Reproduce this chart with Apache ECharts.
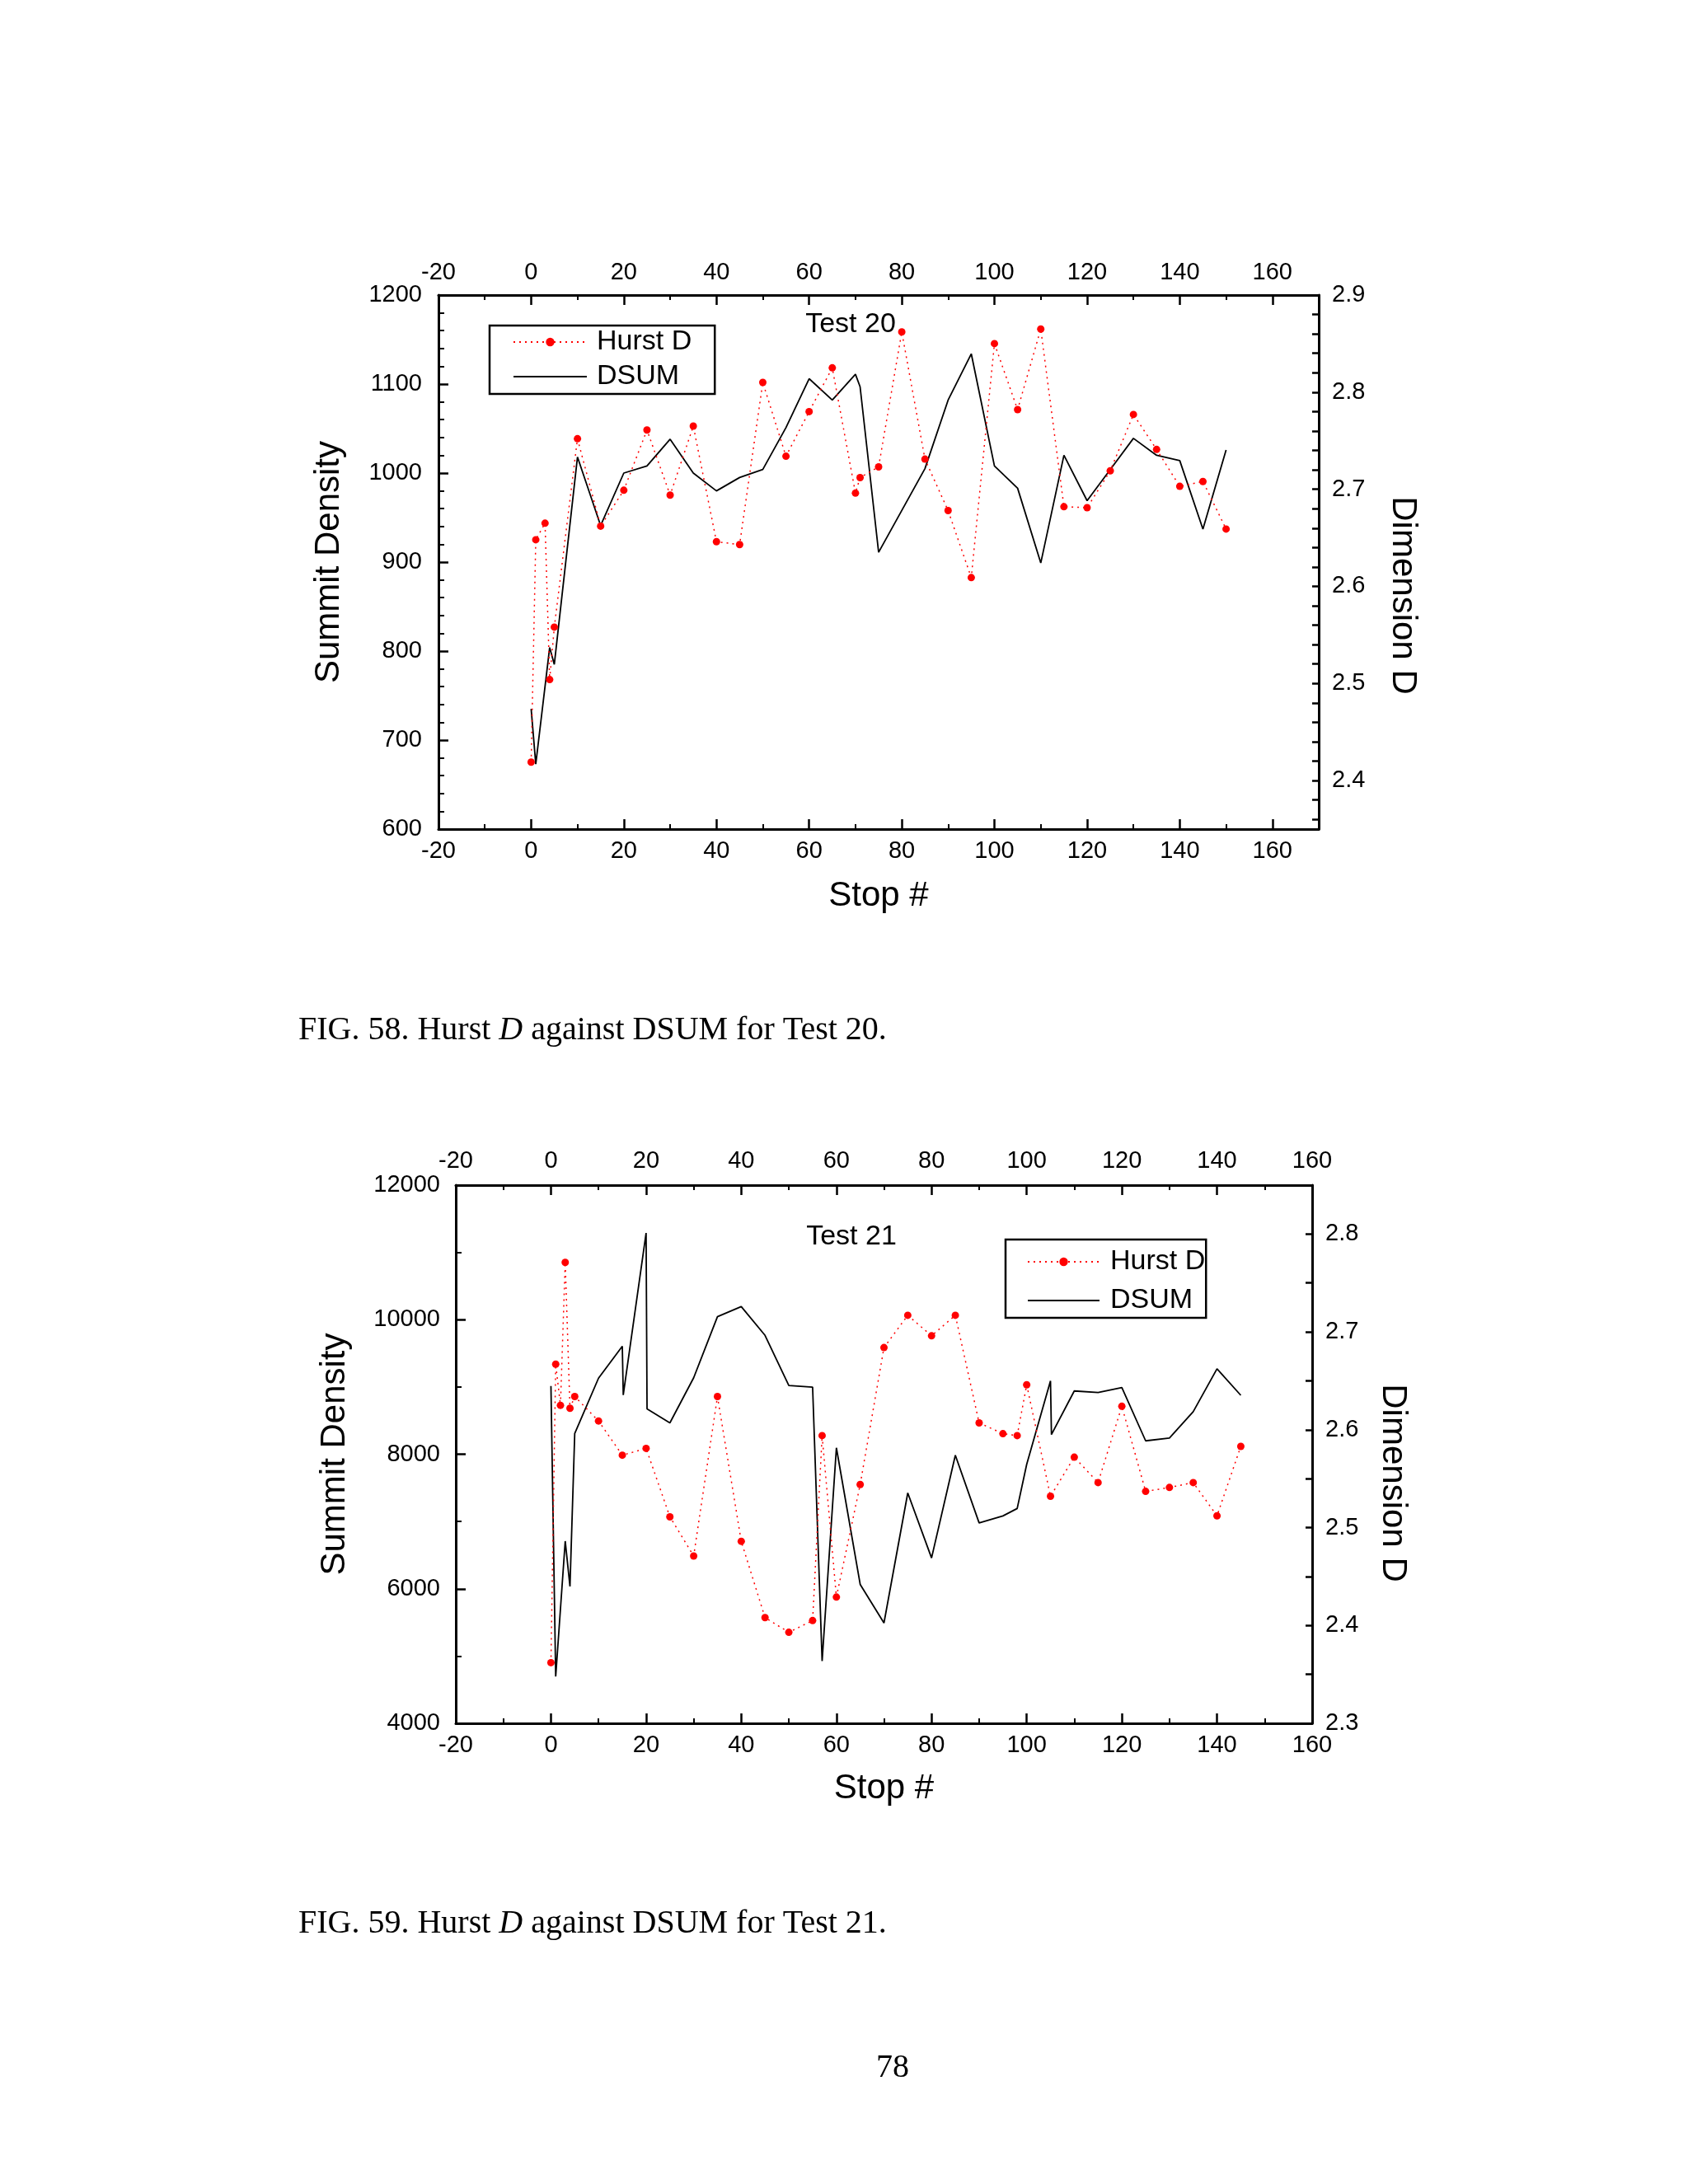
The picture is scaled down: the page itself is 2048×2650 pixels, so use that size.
<!DOCTYPE html>
<html><head><meta charset="utf-8">
<script src="https://cdn.jsdelivr.net/npm/echarts@6/dist/echarts.min.js"></script>
<style>html,body{margin:0;padding:0;background:#fff}#c{width:2048px;height:2650px}</style>
</head><body><div id="c"></div>
<script>
// ---------- Test 20 ----------
const stopHurst20 = [0,1,3,4,5,10,15,20,25,30,35,40,45,50,55,60,65,70,71,75,80,85,90,95,100,105,110,115,120,125,130,135,140,145,150];
const hurst20 = [2.419,2.648,2.665,2.504,2.558,2.752,2.662,2.699,2.761,2.694,2.765,2.646,2.643,2.810,2.734,2.780,2.825,2.696,2.712,2.723,2.862,2.731,2.678,2.609,2.850,2.782,2.865,2.682,2.681,2.719,2.777,2.741,2.703,2.708,2.659];
const stopDsum20 = [0,1,4,5,10,15,20,25,30,35,40,45,50,55,60,65,70,71,75,80,85,90,95,100,105,110,115,120,125,130,135,140,145,150];
const dsum20 = [735,673,804,785,1018,941,1000,1008,1038,1000,980,995,1004,1051,1106,1082,1111,1097,911,958,1005,1082,1134,1008,983,899,1020,969,1004,1039,1020,1014,937,1026];
const dimTicks20 = [2.36,2.38,2.4,2.42,2.44,2.46,2.48,2.5,2.52,2.54,2.56,2.58,2.6,2.62,2.64,2.66,2.68,2.7,2.72,2.74,2.76,2.78,2.8,2.82,2.84,2.86,2.88,2.9];
const dimLabels20 = [2.4,2.5,2.6,2.7,2.8,2.9];

// ---------- Test 21 ----------
const stopHurst21 = [0,1,2,3,4,5,10,15,20,25,30,35,40,45,50,55,57,60,65,70,75,80,85,90,95,98,100,105,110,115,120,125,130,135,140,145];
const hurst21 = [2.362,2.667,2.625,2.771,2.622,2.634,2.609,2.574,2.581,2.511,2.471,2.634,2.486,2.408,2.393,2.405,2.594,2.429,2.544,2.684,2.717,2.696,2.717,2.607,2.596,2.594,2.646,2.532,2.572,2.546,2.624,2.537,2.541,2.546,2.512,2.583];
const stopDsum21 = [0,1,3,4,5,10,15,15.2,20,20.2,25,30,35,40,45,50,55,57,60,65,70,75,80,85,90,95,98,100,105,105.2,110,115,120,125,130,135,140,145];
const dsum21 = [9014,4695,6708,6034,8309,9130,9605,8880,11288,8674,8465,9136,10045,10195,9767,9021,8998,4925,8095,6065,5492,7424,6458,7985,6979,7083,7193,7850,9090,8292,8940,8917,8992,8199,8240,8633,9269,8876];
const dimTicks21 = [2.35,2.4,2.45,2.5,2.55,2.6,2.65,2.7,2.75,2.8,2.85];
const dimLabels21 = [2.3,2.4,2.5,2.6,2.7,2.8];

const SANS = '"Liberation Sans", Arial, sans-serif';
const SERIF = '"Liberation Serif", "Times New Roman", serif';
const BLACK = '#000';
const RED = '#ff0000';
const CLEAR = 'rgba(0,0,0,0)';

const legendItems = [
  {name:'Hurst D'},
  {name:'DSUM', itemStyle:{color:CLEAR, borderColor:CLEAR, borderWidth:0, opacity:0}}
];

function zip(xs, ys){ return xs.map((x,i)=>[x, ys[i]]); }

function lineAx(){ return {show:true, onZero:false, lineStyle:{color:BLACK, width:3}}; }
function lbl(margin, extra){ return Object.assign({color:BLACK, fontSize:29, fontFamily:SANS, margin:margin, hideOverlap:false}, extra||{}); }
const nameStyle = {fontSize:42, fontFamily:SANS, color:BLACK};

function xAx(grid, pos, max, showMax, margin, withName, nameGap){
  return {
    type:'value', gridIndex:grid, position:pos, min:-20, max:max, interval:20,
    axisLine:lineAx(),
    axisTick:{show:true, inside:true, length:12, lineStyle:{color:BLACK, width:2.5}},
    minorTick:{show:true, splitNumber:2, length:6, lineStyle:{color:BLACK, width:2}},
    splitLine:{show:false}, minorSplitLine:{show:false},
    axisLabel:lbl(margin, {showMaxLabel:showMax, showMinLabel:true}),
    name: withName ? 'Stop #' : '', nameLocation:'middle', nameGap:nameGap||0,
    nameMoveOverlap:false, nameTextStyle:nameStyle
  };
}

const option = {
  animation:false,
  backgroundColor:'#fff',
  title:[
    {text:'Test 20', left:1032, top:377, textAlign:'center', padding:0,
     textStyle:{fontSize:34, fontWeight:'normal', fontFamily:SANS, color:BLACK}},
    {text:'Test 21', left:1033, top:1484, textAlign:'center', padding:0,
     textStyle:{fontSize:34, fontWeight:'normal', fontFamily:SANS, color:BLACK}},
    {text:'FIG. 58. Hurst {i|D} against DSUM for Test 20.', left:362, top:1230, padding:0,
     textStyle:{fontSize:40, fontWeight:'normal', fontFamily:SERIF, color:BLACK,
       rich:{i:{fontStyle:'italic', fontSize:40, fontFamily:SERIF, color:BLACK}}}},
    {text:'FIG. 59. Hurst {i|D} against DSUM for Test 21.', left:362, top:2314, padding:0,
     textStyle:{fontSize:40, fontWeight:'normal', fontFamily:SERIF, color:BLACK,
       rich:{i:{fontStyle:'italic', fontSize:40, fontFamily:SERIF, color:BLACK}}}},
    {text:'78', left:1083, top:2489, textAlign:'center', padding:0,
     textStyle:{fontSize:40, fontWeight:'normal', fontFamily:SERIF, color:BLACK}}
  ],
  legend:[
    {orient:'vertical', left:594, top:395, padding:[3,28,4,28], itemWidth:89, itemHeight:13, itemGap:8,
     borderColor:BLACK, borderWidth:2.5, backgroundColor:'#fff', selectedMode:false, data:legendItems,
     textStyle:{fontSize:34, lineHeight:34, fontFamily:SANS, color:BLACK, padding:[0,0,0,7]}},
    {orient:'vertical', left:1220, top:1504, padding:[10,1,4,26], itemWidth:87, itemHeight:13, itemGap:13,
     borderColor:BLACK, borderWidth:2.5, backgroundColor:'#fff', selectedMode:false, data:legendItems,
     textStyle:{fontSize:34, lineHeight:34, fontFamily:SANS, color:BLACK, padding:[0,0,0,8]}}
  ],
  grid:[
    {left:532, top:358, width:1068, height:648, containLabel:false, outerBoundsMode:'none'},
    {left:553, top:1438, width:1039, height:653, containLabel:false, outerBoundsMode:'none'}
  ],
  xAxis:[
    xAx(0,'bottom',170,false,12,true,60),
    xAx(0,'top',170,false,13,false),
    xAx(1,'bottom',160,true,12,true,58),
    xAx(1,'top',160,true,15,false)
  ],
  yAxis:[
    {type:'value', gridIndex:0, position:'left', min:600, max:1200, interval:100,
     axisLine:lineAx(),
     axisTick:{show:true, inside:true, length:12, lineStyle:{color:BLACK, width:2.5}},
     minorTick:{show:true, splitNumber:5, length:7, lineStyle:{color:BLACK, width:2}},
     splitLine:{show:false}, minorSplitLine:{show:false},
     axisLabel:lbl(20, {formatter:v=>String(v)}),
     name:'Summit Density', nameLocation:'middle', nameGap:112, nameMoveOverlap:false, nameTextStyle:nameStyle},
    {type:'value', gridIndex:0, position:'right', min:2.35, max:2.9,
     axisLine:lineAx(),
     axisTick:{show:true, inside:true, length:8, customValues:dimTicks20, lineStyle:{color:BLACK, width:2.5}},
     minorTick:{show:false},
     splitLine:{show:false},
     axisLabel:lbl(16, {customValues:dimLabels20, formatter:v=>Number(v).toFixed(1)}),
     name:'Dimension D', nameLocation:'middle', nameGap:81, nameRotate:-90, nameMoveOverlap:false,
     nameTextStyle:Object.assign({padding:[0,0,0,81]}, nameStyle)},
    {type:'value', gridIndex:1, position:'left', min:4000, max:12000, interval:2000,
     axisLine:lineAx(),
     axisTick:{show:true, inside:true, length:12, lineStyle:{color:BLACK, width:2.5}},
     minorTick:{show:true, splitNumber:2, length:7, lineStyle:{color:BLACK, width:2}},
     splitLine:{show:false}, minorSplitLine:{show:false},
     axisLabel:lbl(19, {formatter:v=>String(v)}),
     name:'Summit Density', nameLocation:'middle', nameGap:126, nameMoveOverlap:false, nameTextStyle:nameStyle},
    {type:'value', gridIndex:1, position:'right', min:2.3, max:2.85,
     axisLine:lineAx(),
     axisTick:{show:true, inside:true, length:8, customValues:dimTicks21, lineStyle:{color:BLACK, width:2.5}},
     minorTick:{show:false},
     splitLine:{show:false},
     axisLabel:lbl(16, {customValues:dimLabels21, formatter:v=>Number(v).toFixed(1)}),
     name:'Dimension D', nameLocation:'middle', nameGap:77, nameRotate:-90, nameMoveOverlap:false,
     nameTextStyle:Object.assign({padding:[0,0,0,70]}, nameStyle)}
  ],
  series:[
    {name:'Hurst D', type:'line', xAxisIndex:0, yAxisIndex:1, data:zip(stopHurst20, hurst20),
     symbol:'circle', symbolSize:9, itemStyle:{color:RED}, lineStyle:{color:RED, width:1.5, type:[2,5]}, z:3},
    {name:'DSUM', type:'line', xAxisIndex:0, yAxisIndex:0, data:zip(stopDsum20, dsum20),
     symbol:'none', itemStyle:{color:BLACK}, lineStyle:{color:BLACK, width:1.8}, z:2},
    {name:'Hurst D', type:'line', xAxisIndex:2, yAxisIndex:3, data:zip(stopHurst21, hurst21),
     symbol:'circle', symbolSize:9, itemStyle:{color:RED}, lineStyle:{color:RED, width:1.5, type:[2,5]}, z:3},
    {name:'DSUM', type:'line', xAxisIndex:2, yAxisIndex:2, data:zip(stopDsum21, dsum21),
     symbol:'none', itemStyle:{color:BLACK}, lineStyle:{color:BLACK, width:1.8}, z:2}
  ]
};

const chart = echarts.init(document.getElementById('c'), null, {renderer:'canvas', width:2048, height:2650});
chart.setOption(option);
</script>
</body></html>
